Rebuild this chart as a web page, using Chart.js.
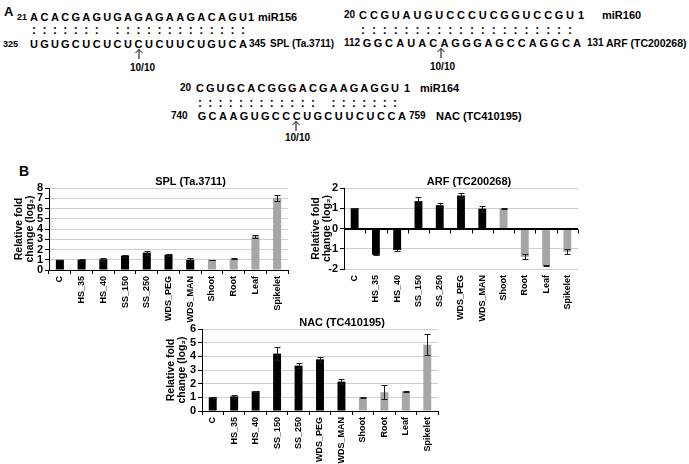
<!DOCTYPE html>
<html lang="en">
<head>
<meta charset="UTF-8">
<title>miRNA targets and relative fold change</title>
<script src="https://cdn.jsdelivr.net/npm/chart.js"></script>
<style>
  body { margin: 0; width: 689px; height: 464px; position: relative; overflow: hidden; background: #fff;
         font-family: "Liberation Sans", Arial, sans-serif; font-weight: bold; color: #000; }
  .t { position: absolute; white-space: nowrap; line-height: 1; }
  .box { position: absolute; }
  svg.arrow { position: absolute; overflow: visible; }
</style>
</head>
<body>
<div id="partA"></div>
<div class="t" style="left:19px;top:164px;font-size:14px">B</div>
<div class="box" style="left:0px;top:168px"><canvas id="splChart" width="291" height="155"></canvas></div>
<div class="box" style="left:300px;top:168px"><canvas id="arfChart" width="281" height="154"></canvas></div>
<div class="box" style="left:155px;top:309px"><canvas id="nacChart" width="286" height="155"></canvas></div>

<script>
// ---- data ----
const categories = ['C', 'HS_35', 'HS_40', 'SS_150', 'SS_250', 'WDS_PEG', 'WDS_MAN', 'Shoot', 'Root', 'Leaf', 'Spikelet'];
const sampleGroup = ['stress', 'stress', 'stress', 'stress', 'stress', 'stress', 'stress', 'tissue', 'tissue', 'tissue', 'tissue'];

const splValues = [1.0, 1.0, 1.05, 1.4, 1.7, 1.5, 1.0, 1.0, 1.1, 3.3, 7.05];
const splErrors = [0.02, 0.12, 0.15, 0.1, 0.2, 0.1, 0.2, 0.02, 0.05, 0.15, 0.3];

const arfValues = [1.0, -1.3, -1.06, 1.35, 1.15, 1.63, 0.98, 1.0, -1.4, -1.83, -1.15];
const arfErrors = [0.02, 0.03, 0.03, 0.2, 0.1, 0.13, 0.15, 0.02, 0.12, 0.02, 0.13];

const nacValues = [1.0, 1.07, 1.44, 4.2, 3.32, 3.78, 2.15, 1.0, 1.37, 1.44, 4.85];
const nacErrors = [0.02, 0.1, 0.05, 0.5, 0.17, 0.2, 0.17, 0.02, 0.5, 0.05, 0.76];

// miRNA / target pairings for panel A (1 = paired, 0 = mismatch)
const mir156 = 'ACACGAGUGAGAGAAGACAGU', splSite = 'UGUGCUCUCUCUCUUCUGUCA', pair156 = '111111101111111111111';
const mir160 = 'CCGUAUGUCCCUCGGUCCGU', arfSite = 'GGCAUACAGGGAGCCAGGCA', pair160 = '11111111111111111111';
const mir164 = 'CGUGCACGGGACGAAGAGGU', nacSite = 'GCAAGUGCCCUGCUUCUCCA', pair164 = '11111111111101111111';

// ---- panel A (plain text) ----
const partA = document.getElementById('partA');
function putText(txt, x, y, size, weight) {
  const d = document.createElement('div');
  d.className = 't';
  d.textContent = txt;
  d.style.left = x + 'px';
  d.style.top = (y - size / 2) + 'px';
  d.style.fontSize = size + 'px';
  if (weight) d.style.fontWeight = weight;
  partA.appendChild(d);
  return d;
}
function putSeq(str, x0, x1, y, size) {
  const pitch = (x1 - x0) / (str.length - 1);
  for (let i = 0; i < str.length; i++) {
    const d = putText(str[i], x0 + i * pitch, y, size);
    d.style.transform = 'translateX(-50%)';
  }
}
function putPairs(pairs, x0, x1, y) {
  putSeq(pairs.replace(/1/g, ':').replace(/0/g, ' '), x0, x1, y, 12);
}
function putArrow(x, y0, y1) {
  const ns = 'http://www.w3.org/2000/svg';
  const s = document.createElementNS(ns, 'svg');
  s.setAttribute('class', 'arrow');
  s.setAttribute('width', 10); s.setAttribute('height', y1 - y0);
  s.style.left = (x - 5) + 'px'; s.style.top = y0 + 'px';
  s.innerHTML = `<path d="M5 ${y1 - y0} V0.5 M1.5 4 L5 0.5 L8.5 4" stroke="#000" stroke-width="1" fill="none"/>`;
  partA.appendChild(s);
}

putText('A', 4, 11, 13);
// miR156 / SPL
putText('21', 17, 17, 9);
putSeq(mir156, 34, 243, 17, 11);
putText('1', 248, 17, 11);
putText('miR156', 258, 17, 11);
putPairs(pair156, 34, 243, 30);
putText('325', 3, 44, 9);
putSeq(splSite, 34, 243, 44, 11);
putText('345', 249, 44, 10);
putText('SPL (Ta.3711)', 270, 44, 10);
putArrow(139, 49, 59);
putText('10/10', 130, 68, 10);
// miR160 / ARF
putText('20', 344, 15, 10);
putSeq(mir160, 363, 570, 15, 11);
putText('1', 578, 15, 11);
putText('miR160', 602, 15, 11);
putPairs(pair160, 363, 570, 30);
putText('112', 344, 43, 10);
putSeq(arfSite, 367, 577, 43, 11);
putText('131', 587, 43, 10);
putText('ARF (TC200268)', 606, 43, 10.5);
putArrow(441, 48, 58);
putText('10/10', 430, 67, 10);
// miR164 / NAC
putText('20', 180, 88, 10);
putSeq(mir164, 200, 395, 88, 11);
putText('1', 404, 88, 11);
putText('miR164', 420, 88, 11);
putPairs(pair164, 200, 395, 103);
putText('740', 171, 116, 10);
putSeq(nacSite, 202, 402, 116, 11);
putText('759', 409, 116, 10);
putText('NAC (TC410195)', 436, 116, 11);
putArrow(296, 121, 131);
putText('10/10', 285, 138, 10);

// ---- panel B (Chart.js) ----
const sans = '"Liberation Sans", Arial, sans-serif';
Chart.defaults.font.family = sans;
Chart.defaults.font.weight = 'bold';
Chart.defaults.color = '#000';

const barColour = g => g === 'stress' ? '#000000' : '#a6a6a6';

const errorBars = {
  id: 'errorBars',
  afterDatasetsDraw(chart, args, opts) {
    const ctx = chart.ctx, ys = chart.scales.y;
    const vals = chart.data.datasets[0].data;
    const errs = opts.errors || [];
    ctx.save();
    ctx.strokeStyle = '#1a1a1a';
    ctx.lineWidth = 1;
    chart.getDatasetMeta(0).data.forEach((bar, i) => {
      const e = errs[i];
      if (!e) return;
      const x = Math.round(bar.x) + 0.5;
      const hi = Math.round(ys.getPixelForValue(vals[i] + e)) + 0.5;
      const lo = Math.round(ys.getPixelForValue(vals[i] - e)) + 0.5;
      ctx.beginPath();
      ctx.moveTo(x, hi); ctx.lineTo(x, lo);
      ctx.moveTo(x - 3, hi); ctx.lineTo(x + 3, hi);
      ctx.moveTo(x - 3, lo); ctx.lineTo(x + 3, lo);
      ctx.stroke();
    });
    ctx.restore();
  }
};

// title drawn just above the plot area, Excel style
const panelTitle = {
  id: 'panelTitle',
  afterDraw(chart, args, opts) {
    const { ctx, chartArea } = chart;
    ctx.save();
    ctx.font = 'bold 11px ' + sans;
    ctx.textAlign = 'center';
    ctx.textBaseline = 'middle';
    ctx.fillStyle = '#000';
    ctx.fillText(opts.text, (chartArea.left + chartArea.right) / 2 + (opts.dx || 0), chartArea.top - 6);
    ctx.restore();
  }
};

// category tick marks on the zero line (ARF has negative values)
const zeroTicks = {
  id: 'zeroTicks',
  afterDatasetsDraw(chart, args, opts) {
    if (!opts.on) return;
    const ctx = chart.ctx, xs = chart.scales.x, ys = chart.scales.y;
    const y0 = Math.round(ys.getPixelForValue(0)) + 0.5;
    const step = xs.getPixelForValue(1) - xs.getPixelForValue(0);
    ctx.save();
    ctx.strokeStyle = '#000';
    ctx.lineWidth = 1;
    ctx.beginPath();
    ctx.moveTo(chart.chartArea.left, y0); ctx.lineTo(chart.chartArea.right, y0);
    for (let i = 0; i <= categories.length; i++) {
      const x = Math.round(xs.getPixelForValue(i) - step / 2) + 0.5;
      ctx.moveTo(x, y0); ctx.lineTo(x, y0 + 4);
    }
    ctx.stroke();
    ctx.restore();
  }
};

function makeChart(id, cfg) {
  return new Chart(document.getElementById(id), {
    type: 'bar',
    data: {
      labels: categories,
      datasets: [{
        data: cfg.values,
        backgroundColor: sampleGroup.map(barColour),
        borderWidth: 0,
        barPercentage: 0.37,
        categoryPercentage: 1.0
      }]
    },
    plugins: [errorBars, panelTitle, zeroTicks],
    options: {
      responsive: false,
      animation: false,
      layout: { padding: { top: 20, right: 3, left: cfg.padLeft, bottom: 0 } },
      plugins: {
        legend: { display: false },
        tooltip: { enabled: false },
        errorBars: { errors: cfg.errors },
        panelTitle: { text: cfg.title, dx: cfg.titleDx },
        zeroTicks: { on: cfg.min < 0 }
      },
      scales: {
        x: {
          grid: { display: cfg.min >= 0, drawOnChartArea: false, offset: true, tickLength: 4, tickColor: '#000' },
          border: { display: cfg.min >= 0, color: '#000' },
          ticks: { font: { size: 9, weight: 'bold' }, minRotation: 90, maxRotation: 90, autoSkip: false, padding: 2 },
          afterFit: s => { s.height = 53; }
        },
        y: {
          min: cfg.min, max: cfg.max,
          ticks: { stepSize: 1, autoSkip: false, font: { size: 11, weight: 'bold' }, padding: 2 },
          grid: {
            color: c => (c.tick && c.tick.value === 0) ? '#000' : '#cfcfcf',
            tickColor: '#000', tickLength: 4
          },
          border: { color: '#000' },
          title: {
            display: true, text: ['Relative fold', 'change (log\u2082)'],
            font: { size: 10.5, weight: 'bold', lineHeight: 1.0 }, padding: 0
          },
          afterFit: s => { s.width = cfg.yWidth; }
        }
      }
    }
  });
}

makeChart('splChart', { values: splValues, errors: splErrors, title: 'SPL (Ta.3711)', titleDx: 22,
  min: 0, max: 8, padLeft: 14, yWidth: 35 });
makeChart('arfChart', { values: arfValues, errors: arfErrors, title: 'ARF (TC200268)', titleDx: 8,
  min: -2, max: 2, padLeft: 11, yWidth: 33 });
makeChart('nacChart', { values: nacValues, errors: nacErrors, title: 'NAC (TC410195)', titleDx: 22,
  min: 0, max: 6, padLeft: 11, yWidth: 36 });
</script>
</body>
</html>
